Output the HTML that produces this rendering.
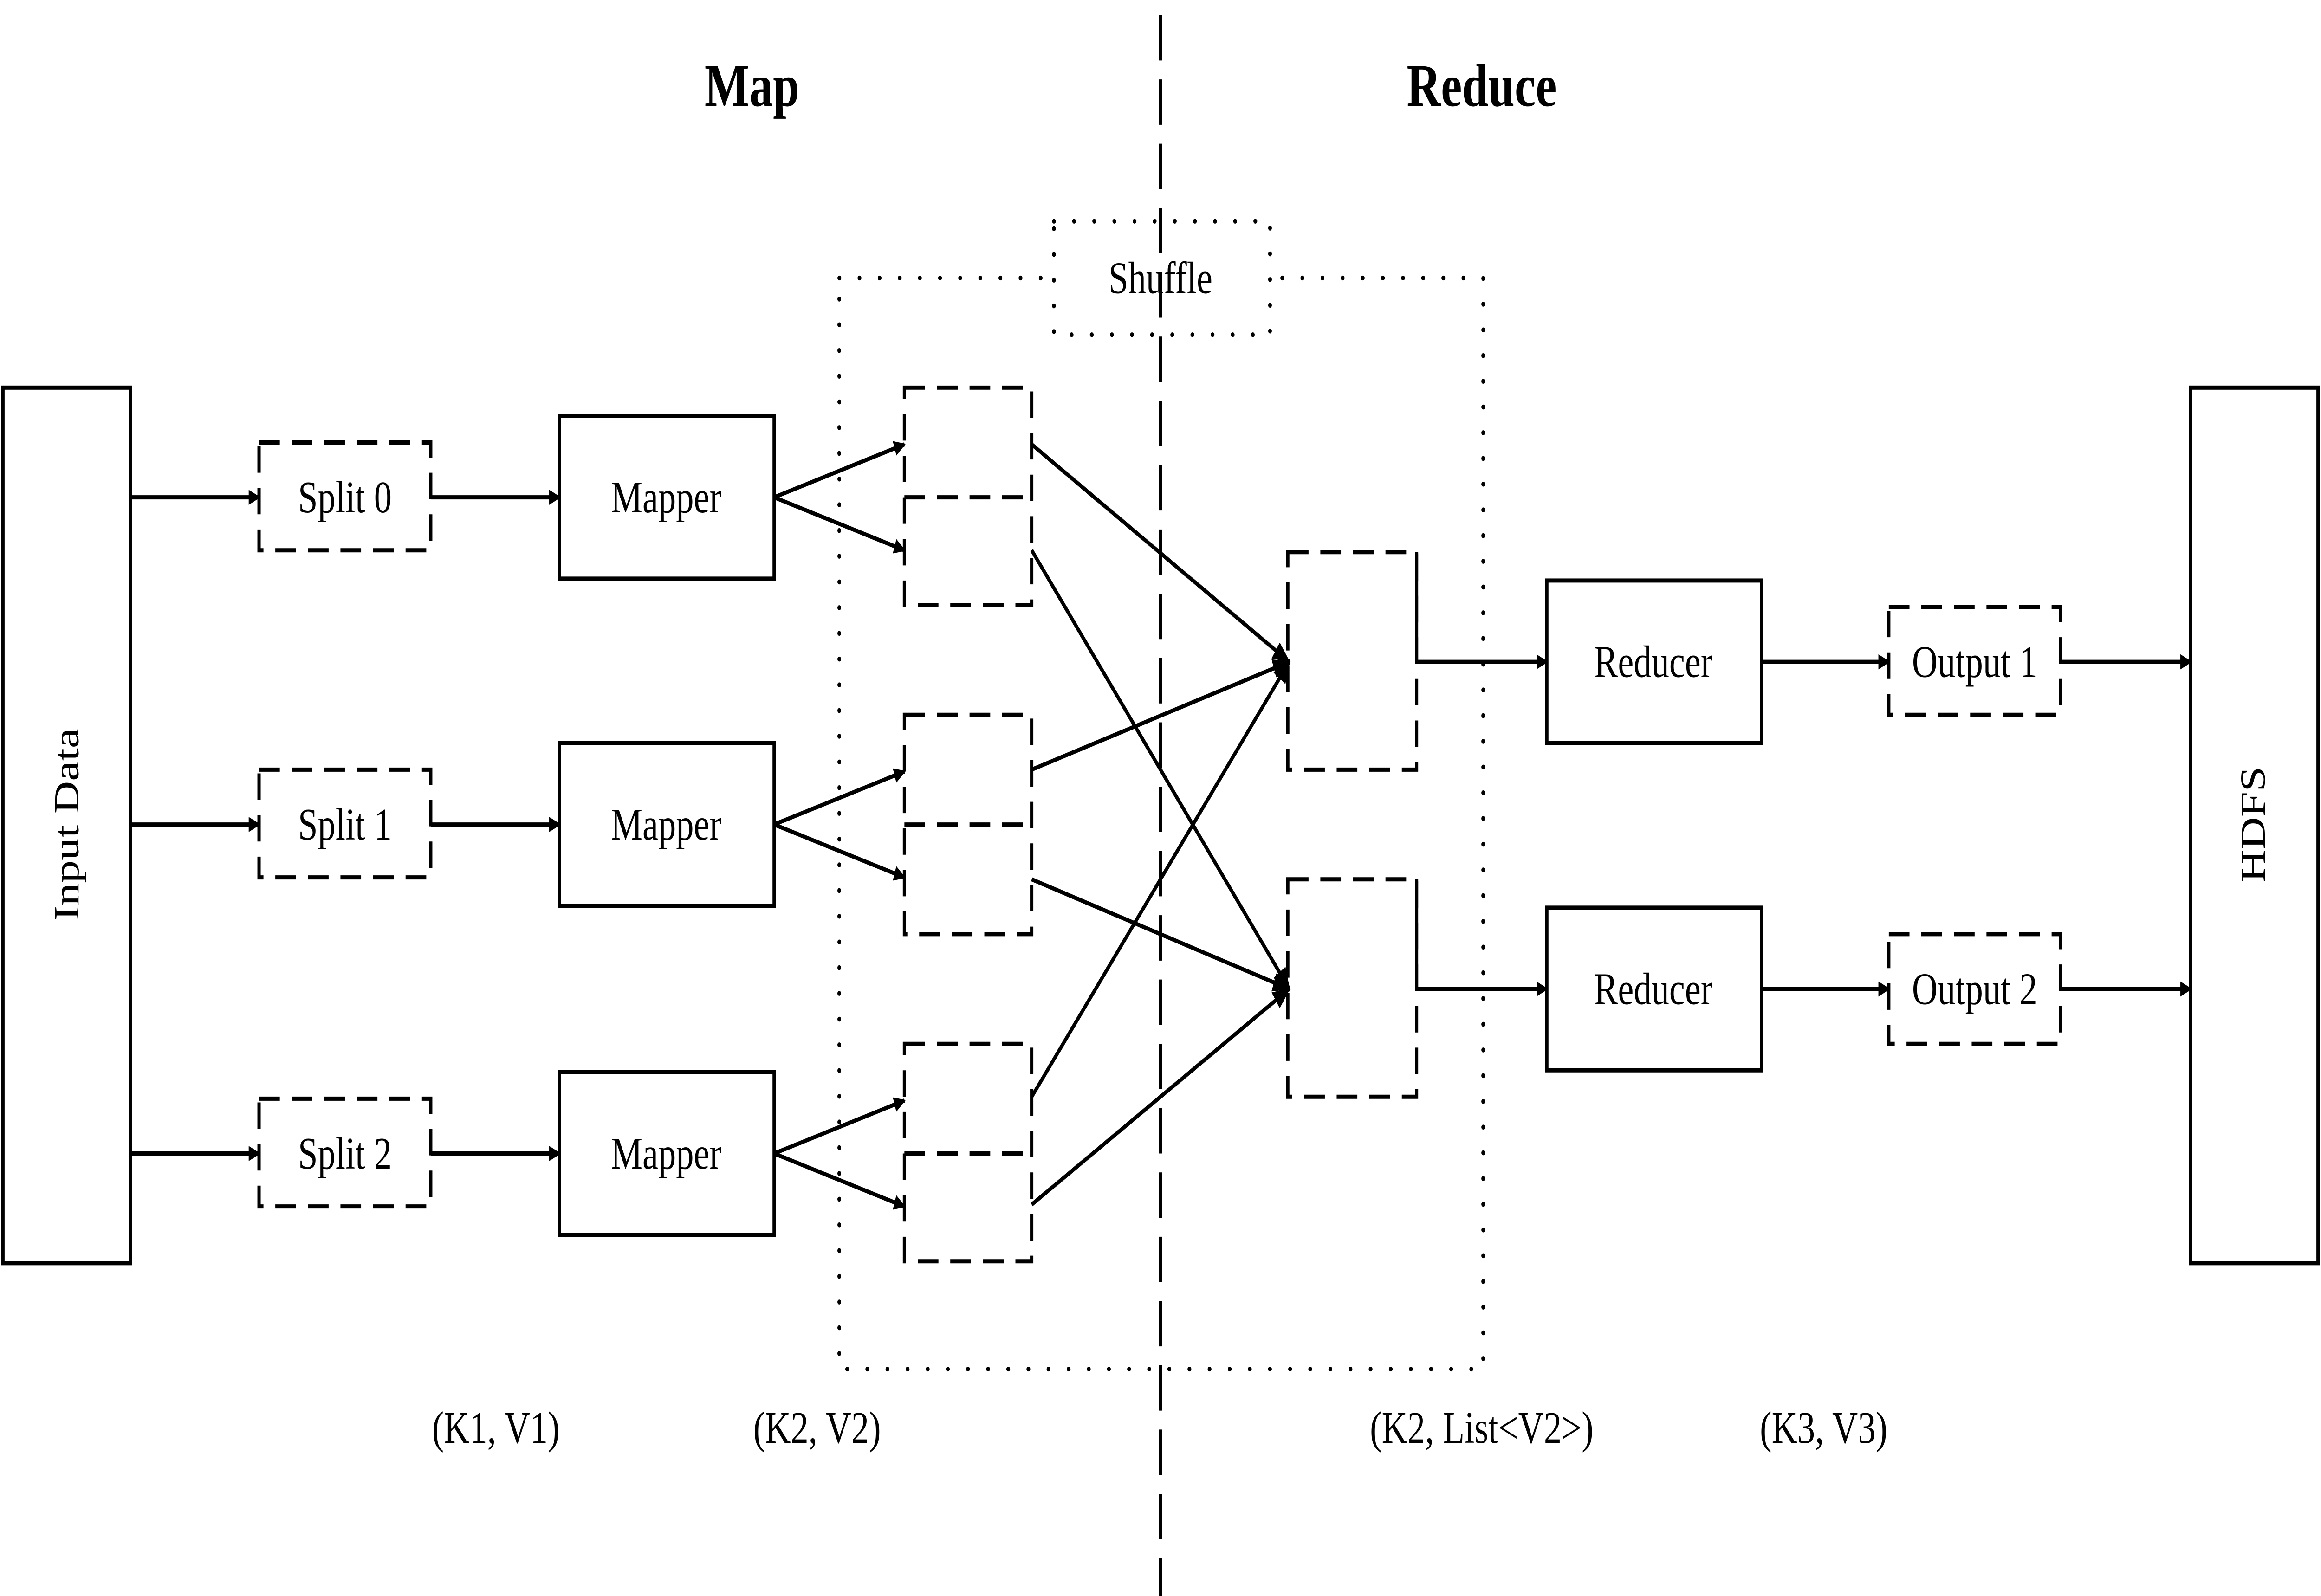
<!DOCTYPE html>
<html><head><style>html,body{margin:0;padding:0;background:#fff;width:100%;height:100%;overflow:hidden}svg{display:block;position:absolute;left:0;top:0;width:100vw;height:100vh}</style></head><body>
<svg viewBox="0 0 1568 844" preserveAspectRatio="none" xmlns="http://www.w3.org/2000/svg" font-family="Liberation Serif, serif">
<defs><marker id="a" markerWidth="8" markerHeight="8" refX="7" refY="4" orient="auto" markerUnits="userSpaceOnUse" viewBox="0 0 8 8"><path d="M0,0 L8,4 L0,8 z" fill="#000"/></marker>
<marker id="b" markerWidth="12" markerHeight="10" refX="11" refY="5" orient="auto" markerUnits="userSpaceOnUse" viewBox="0 0 12 10"><path d="M0,0 L12,5 L0,10 z" fill="#000"/></marker></defs>
<g stroke="#000" stroke-width="2.2" fill="none">
<rect x="567" y="147" width="435" height="577" stroke-dasharray="0.1 13.5" stroke-linecap="round" stroke-width="2.5"/>
<rect x="712" y="117" width="146" height="60" fill="#fff" stroke-dasharray="0.1 13.5" stroke-linecap="round" stroke-width="2.5"/>
<rect x="2" y="205" width="86" height="463" fill="#fff"/>
<rect x="1480" y="205" width="86" height="463" fill="#fff"/>
<g stroke-dasharray="14 8">
<rect x="175" y="234" width="116" height="57"/><rect x="175" y="407" width="116" height="57"/><rect x="175" y="581" width="116" height="57"/>
<rect x="611" y="205" width="86" height="115"/><rect x="611" y="378" width="86" height="116"/><rect x="611" y="552" width="86" height="115"/>
<line x1="611" y1="263" x2="697" y2="263"/><line x1="611" y1="436" x2="697" y2="436"/><line x1="611" y1="610" x2="697" y2="610"/>
<rect x="870" y="292" width="87" height="115"/><rect x="870" y="465" width="87" height="115"/>
<rect x="1276" y="321" width="116" height="57"/><rect x="1276" y="494" width="116" height="58"/>
</g>
<rect x="378" y="220" width="145" height="86"/><rect x="378" y="393" width="145" height="86"/><rect x="378" y="567" width="145" height="86"/>
<rect x="1045" y="307" width="145" height="86"/><rect x="1045" y="480" width="145" height="86"/>
<g marker-end="url(#a)">
<line x1="88" y1="263" x2="175" y2="263"/><line x1="88" y1="436" x2="175" y2="436"/><line x1="88" y1="610" x2="175" y2="610"/>
<line x1="291" y1="263" x2="378" y2="263"/><line x1="291" y1="436" x2="378" y2="436"/><line x1="291" y1="610" x2="378" y2="610"/>
<line x1="523" y1="263" x2="611" y2="235"/><line x1="523" y1="263" x2="611" y2="291"/>
<line x1="523" y1="436" x2="611" y2="408"/><line x1="523" y1="436" x2="611" y2="464"/>
<line x1="523" y1="610" x2="611" y2="582"/><line x1="523" y1="610" x2="611" y2="638"/>
<polyline points="957,292 957,350 1045,350"/><polyline points="957,465 957,523 1045,523"/>
<line x1="1190" y1="350" x2="1276" y2="350"/><line x1="1190" y1="523" x2="1276" y2="523"/>
<line x1="1392" y1="350" x2="1480" y2="350"/><line x1="1392" y1="523" x2="1480" y2="523"/>
</g>
<g marker-end="url(#b)">
<line x1="697" y1="235" x2="871" y2="350"/><line x1="697" y1="291" x2="871" y2="523"/>
<line x1="697" y1="407" x2="871" y2="350"/><line x1="697" y1="465" x2="871" y2="523"/>
<line x1="697" y1="580" x2="871" y2="350"/><line x1="697" y1="637" x2="871" y2="523"/>
</g>
</g>
<g font-size="24" text-anchor="middle" fill="#000">
<text x="233" y="271">Split 0</text><text x="233" y="444">Split 1</text><text x="233" y="618">Split 2</text>
<text x="450" y="271">Mapper</text><text x="450" y="444">Mapper</text><text x="450" y="618">Mapper</text>
<text x="1117" y="358">Reducer</text><text x="1117" y="531">Reducer</text>
<text x="1334" y="358">Output 1</text><text x="1334" y="531">Output 2</text>
<text x="784" y="155">Shuffle</text>
<text transform="translate(53,436) rotate(-90)">Input Data</text>
<text transform="translate(1530,436) rotate(-90)">HDFS</text>
<text x="335" y="763">(K1, V1)</text><text x="552" y="763">(K2, V2)</text>
<text x="1001" y="763">(K2, List&lt;V2&gt;)</text><text x="1232" y="763">(K3, V3)</text>
<text x="508" y="56" font-size="32" font-weight="bold">Map</text>
<text x="1001" y="56" font-size="32" font-weight="bold">Reduce</text>
</g>
<line x1="784" y1="8" x2="784" y2="844" stroke="#000" stroke-width="2.2" stroke-dasharray="24 10"/>
</svg>
</body></html>
